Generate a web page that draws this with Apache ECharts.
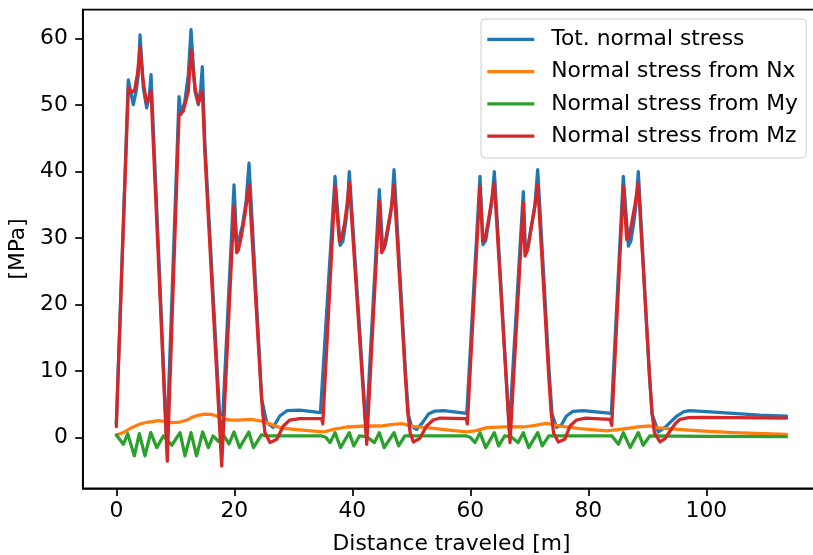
<!DOCTYPE html>
<html>
<head>
<meta charset="utf-8">
<script src="https://cdn.jsdelivr.net/npm/echarts@6/dist/echarts.min.js"></script>
<style>
  html, body { margin: 0; padding: 0; background: #ffffff; }
  #chart { width: 813px; height: 555px; }
</style>
</head>
<body>
<div id="chart"></div>
<script>
// Normal stress components along the travelled distance [m], values in MPa.

const totDist = [0, 2.03, 2.88, 3.4, 3.73, 4.02, 4.58, 5.15, 5.6, 5.88, 8.55, 10.63, 10.97, 11.6, 12.2, 12.66, 13.34, 13.9, 14.3, 14.58, 15.0, 17.8, 19.95, 20.4, 20.8, 21.4, 22.0, 22.49, 24.3, 24.64, 25.5, 26.6, 27.7, 28.9, 31.1, 34.6, 37.07, 37.93, 38.4, 38.9, 39.2, 39.49, 42.35, 44.58, 45.15, 45.6, 46.2, 46.7, 47.07, 49.0, 49.5, 50.0, 50.9, 51.9, 52.9, 54.0, 55.5, 59.4, 61.64, 62.15, 62.6, 63.1, 63.6, 64.07, 66.6, 68.98, 69.35, 69.8, 70.4, 70.95, 71.42, 73.35, 73.85, 74.6, 75.4, 76.3, 77.4, 79.15, 83.9, 85.93, 86.8, 87.2, 87.7, 88.1, 88.47, 90.3, 90.8, 91.86, 93.0, 95.0, 96.2, 97.2, 100, 104.6, 109, 113.6];
const totStress = [2.0, 53.8, 50.1, 52.3, 54.6, 60.6, 52.6, 49.6, 51.5, 54.6, -1.0, 51.3, 48.6, 50.5, 54.6, 61.4, 52.1, 50.1, 52.5, 55.8, 44.5, -1.3, 38.0, 29.3, 29.8, 32.0, 35.5, 41.3, 11.5, 5.7, 2.2, 1.5, 3.2, 4.0, 4.1, 3.7, 39.3, 28.9, 29.5, 32.5, 35.0, 40.0, 1.0, 37.3, 28.3, 29.0, 32.0, 35.0, 40.3, 10.0, 3.5, 1.7, 1.2, 2.2, 3.5, 3.95, 4.0, 3.6, 39.3, 29.0, 29.6, 32.3, 35.2, 40.0, 1.1, 37.0, 28.0, 28.8, 32.0, 35.0, 40.3, 10.0, 3.5, 1.5, 1.8, 3.2, 3.9, 4.0, 3.6, 39.3, 28.8, 29.5, 32.3, 35.2, 40.0, 10.0, 3.5, 0.8, 1.5, 3.2, 3.85, 4.0, 3.85, 3.6, 3.35, 3.2];

const nxDist = [0, 1.2, 2.6, 4.0, 5.4, 7.1, 8.5, 9.4, 10.8, 12.0, 12.8, 14.0, 15.0, 16.0, 16.7, 17.6, 18.4, 19.5, 20.7, 22.9, 24.6, 25.8, 26.6, 27.8, 28.9, 31.1, 33.0, 35.1, 36.8, 39.05, 42.4, 44.7, 46.9, 48.6, 49.8, 52.6, 56.0, 59.4, 61.0, 62.8, 66.7, 69.0, 71.0, 72.9, 75.2, 78.6, 83.1, 85.4, 88.8, 90.4, 91.6, 93.3, 98.9, 104.6, 113.6];
const nxStress = [0.35, 0.7, 1.45, 2.0, 2.3, 2.5, 2.35, 2.2, 2.3, 2.6, 3.0, 3.35, 3.5, 3.45, 3.3, 3.0, 2.7, 2.6, 2.6, 2.7, 2.45, 2.1, 1.8, 1.45, 1.3, 1.1, 0.95, 0.8, 1.2, 1.55, 1.7, 1.7, 1.95, 2.05, 1.7, 1.45, 1.1, 0.8, 1.0, 1.45, 1.6, 1.55, 1.8, 2.1, 1.7, 1.3, 0.95, 1.2, 1.6, 1.7, 1.45, 1.3, 0.95, 0.7, 0.45];

const myDist = [0, 1.19, 1.93, 3.05, 3.9, 4.86, 5.83, 6.85, 7.97, 9.4, 10.8, 11.64, 12.66, 13.6, 14.64, 15.6, 16.4, 17.3, 18.2, 19.1, 19.95, 20.9, 22.45, 23.25, 24.6, 25.5, 34.8, 35.5, 36.24, 37.07, 38.0, 39.49, 40.25, 41.2, 42.4, 43.75, 44.58, 45.4, 47.07, 47.85, 48.9, 59.3, 60.0, 60.8, 61.64, 62.6, 64.07, 64.8, 65.8, 66.9, 68.1, 68.98, 69.9, 71.42, 72.2, 73.3, 84.0, 85.1, 85.93, 87.1, 88.47, 89.3, 90.4, 100, 113.6];
const myStress = [0.35, -1.05, 0.55, -2.8, 0.55, -2.8, 0.7, -1.55, 0.2, -1.2, 0.7, -2.8, 0.7, -2.8, 0.8, -1.55, 0.2, -0.6, 0.3, -1.0, 0.8, -1.55, 0.8, -1.55, 0.35, 0.2, 0.2, 0.0, -0.8, 0.7, -1.55, 0.7, -1.3, 0.2, 0.1, -0.8, 0.7, -1.55, 0.7, -1.3, 0.2, 0.2, 0.0, -0.8, 0.7, -1.55, 0.7, -1.3, 0.2, 0.1, -0.8, 0.7, -1.55, 0.7, -1.3, 0.2, 0.2, -1.05, 0.7, -1.55, 0.7, -1.2, 0.2, 0.15, 0.1];

const mzDist = [0, 2.03, 2.6, 3.1, 3.6, 4.02, 4.5, 5.1, 5.5, 5.88, 8.64, 10.63, 11.36, 12.2, 12.66, 13.34, 13.9, 14.58, 15.0, 17.86, 19.95, 20.4, 20.7, 21.2, 21.8, 22.49, 24.4, 24.8, 25.2, 26.05, 27.2, 28.3, 29.4, 31.1, 34.8, 35.0, 37.07, 37.8, 38.2, 38.7, 39.1, 39.49, 42.44, 44.58, 44.98, 45.4, 46.0, 46.6, 47.07, 49.0, 49.4, 49.8, 50.34, 51.4, 52.6, 53.7, 54.9, 59.3, 59.5, 61.64, 62.1, 62.5, 63.0, 63.5, 64.07, 66.73, 68.98, 69.27, 69.7, 70.3, 70.9, 71.42, 73.3, 73.7, 74.1, 74.92, 76.0, 76.9, 78.0, 79.5, 83.7, 83.97, 85.93, 86.5, 86.9, 87.4, 87.9, 88.47, 90.4, 90.8, 91.2, 92.15, 93.0, 93.85, 94.7, 95.5, 97.0, 99.0, 105, 113.6];
const mzStress = [1.6, 52.6, 51.9, 52.3, 54.8, 58.8, 54.0, 50.4, 51.0, 52.1, -3.6, 48.6, 49.1, 52.1, 58.3, 52.6, 50.3, 52.1, 43.0, -4.3, 34.8, 27.8, 28.2, 30.3, 33.5, 38.0, 9.0, 3.7, 0.7, -0.8, -0.3, 1.7, 2.6, 2.8, 2.8, 2.0, 37.8, 29.5, 30.0, 32.3, 35.0, 38.3, -1.05, 35.5, 27.8, 28.5, 31.5, 34.5, 38.0, 9.0, 3.7, 0.7, -0.7, -0.2, 1.7, 2.6, 2.9, 2.8, 2.0, 37.8, 29.5, 30.0, 32.3, 35.0, 38.3, -0.8, 35.3, 27.3, 28.2, 31.5, 34.5, 38.0, 9.0, 3.7, 0.7, -0.7, -0.3, 1.7, 2.6, 2.9, 2.7, 1.8, 37.8, 29.8, 30.2, 32.5, 35.0, 38.3, 9.0, 3.7, 0.7, -0.7, -0.2, 0.95, 2.0, 2.7, 2.95, 3.0, 2.95, 2.9];

const seriesNames = ['Tot. normal stress', 'Normal stress from Nx', 'Normal stress from My', 'Normal stress from Mz'];
const xTicks = [0, 20, 40, 60, 80, 100];
const yTicks = [0, 10, 20, 30, 40, 50, 60];

const FONT = 'DejaVu Sans';
const FS = 21.8;
const colors = ['#1f77b4', '#ff7f0e', '#2ca02c', '#d62728'];
const curves = [
  [totDist, totStress],
  [nxDist, nxStress],
  [myDist, myStress],
  [mzDist, mzStress]
];

const toPairs = (xs, ys) => xs.map((x, i) => [x, ys[i]]);

const chart = echarts.init(document.getElementById('chart'), null, { renderer: 'canvas' });

const textBase = { fontFamily: FONT, fontSize: FS, color: '#000000' };

chart.setOption({
  animation: false,
  backgroundColor: '#ffffff',
  grid: {
    left: 82.8, top: 9.6, width: 737.4, height: 478.7,
    outerBoundsMode: 'none', containLabel: false,
    show: true, borderColor: '#000000', borderWidth: 1.7, backgroundColor: 'transparent'
  },
  xAxis: {
    type: 'value', min: -5.68, max: 119.3,
    name: 'Distance traveled [m]', nameLocation: 'middle', nameGap: 45,
    nameTextStyle: textBase,
    axisLine: { show: true, onZero: false, lineStyle: { color: '#000000', width: 1.7 } },
    axisTick: { show: true, length: 7.6, customValues: xTicks, lineStyle: { color: '#000000', width: 1.7 } },
    axisLabel: Object.assign({ customValues: xTicks, margin: 12.5 }, textBase),
    splitLine: { show: false }
  },
  yAxis: {
    type: 'value', min: -7.68, max: 64.4,
    name: '[MPa]', nameLocation: 'middle', nameGap: 50, nameRotate: 90,
    nameTextStyle: textBase,
    axisLine: { show: true, onZero: false, lineStyle: { color: '#000000', width: 1.7 } },
    axisTick: { show: true, length: 7.6, customValues: yTicks, lineStyle: { color: '#000000', width: 1.7 } },
    axisLabel: Object.assign({ customValues: yTicks, margin: 15 }, textBase),
    splitLine: { show: false }
  },
  legend: {
    orient: 'vertical', left: 481, top: 19,
    padding: [9.3, 8.3, 10.7, 6.3],
    itemWidth: 47, itemHeight: 3.3, itemGap: 10.3, icon: 'rect',
    backgroundColor: 'rgba(255,255,255,0.8)', borderColor: '#cccccc', borderWidth: 1, borderRadius: 4,
    textStyle: Object.assign({ lineHeight: 22, padding: [0, 0, 0, 12] }, textBase),
    data: seriesNames
  },
  series: curves.map((c, i) => ({
    name: seriesNames[i],
    type: 'line',
    data: toPairs(c[0], c[1]),
    showSymbol: false,
    symbol: 'none',
    color: colors[i],
    lineStyle: { color: colors[i], width: 3.27, join: 'round', cap: 'round' },
    z: 2 + i
  }))
});
</script>
</body>
</html>
